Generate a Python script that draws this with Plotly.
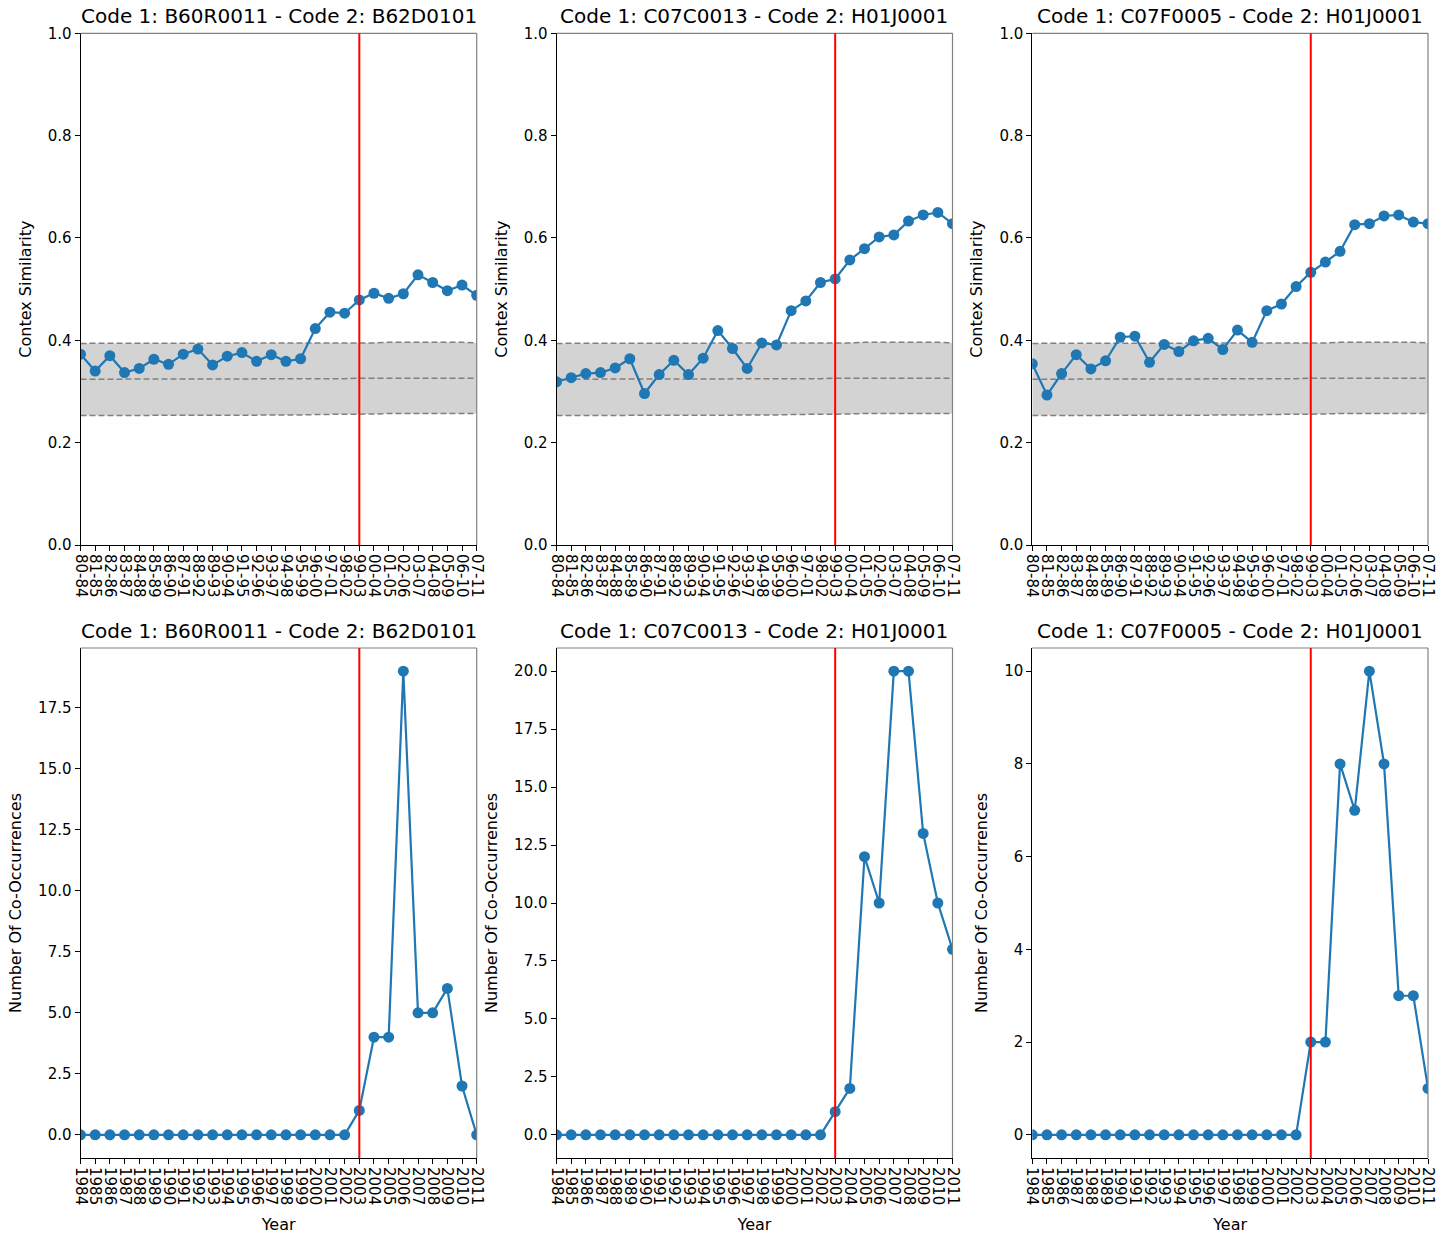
import plotly.graph_objects as go

W, H = 1451, 1241

period_labels = ["80-84", "81-85", "82-86", "83-87", "84-88", "85-89", "86-90", "87-91",
                 "88-92", "89-93", "90-94", "91-95", "92-96", "93-97", "94-98", "95-99",
                 "96-00", "97-01", "98-02", "99-03", "00-04", "01-05", "02-06", "03-07",
                 "04-08", "05-09", "06-10", "07-11"]
year_labels = [str(y) for y in range(1984, 2012)]

titles = ["Code 1: B60R0011 - Code 2: B62D0101",
          "Code 1: C07C0013 - Code 2: H01J0001",
          "Code 1: C07F0005 - Code 2: H01J0001"]

sim_1 = [0.373, 0.340, 0.370, 0.337, 0.345, 0.363, 0.353, 0.373, 0.383, 0.352, 0.369, 0.376,
         0.359, 0.372, 0.359, 0.364, 0.423, 0.455, 0.453, 0.479, 0.492, 0.482, 0.491, 0.528,
         0.513, 0.497, 0.508, 0.488]
sim_2 = [0.319, 0.327, 0.335, 0.337, 0.346, 0.364, 0.296, 0.333, 0.361, 0.333, 0.365, 0.419,
         0.384, 0.345, 0.395, 0.391, 0.458, 0.477, 0.513, 0.520, 0.557, 0.579, 0.602, 0.606,
         0.633, 0.645, 0.650, 0.628]
sim_3 = [0.354, 0.293, 0.335, 0.372, 0.344, 0.360, 0.406, 0.408, 0.357, 0.392, 0.378, 0.399,
         0.404, 0.382, 0.420, 0.396, 0.458, 0.471, 0.505, 0.533, 0.553, 0.574, 0.626, 0.628,
         0.643, 0.645, 0.631, 0.628]

band_upper = [0.394, 0.394, 0.394, 0.394, 0.394, 0.394, 0.394, 0.394, 0.394, 0.394, 0.394, 0.394,
              0.394, 0.394, 0.394, 0.394, 0.394, 0.394, 0.394, 0.395, 0.395, 0.396, 0.396, 0.397,
              0.397, 0.396, 0.396, 0.395]
band_mid = [0.324, 0.324, 0.324, 0.325, 0.325, 0.325, 0.325, 0.325, 0.325, 0.325, 0.325, 0.325,
            0.325, 0.325, 0.325, 0.325, 0.325, 0.325, 0.325, 0.326, 0.326, 0.326, 0.327, 0.327,
            0.327, 0.327, 0.327, 0.326]
band_lower = [0.253, 0.253, 0.253, 0.253, 0.254, 0.254, 0.254, 0.254, 0.254, 0.254, 0.254, 0.254,
              0.254, 0.254, 0.254, 0.254, 0.255, 0.255, 0.256, 0.256, 0.256, 0.257, 0.257, 0.257,
              0.258, 0.258, 0.257, 0.257]

cooc_1 = [0] * 19 + [1, 4, 4, 19, 5, 5, 6, 2, 0]
cooc_2 = [0] * 19 + [1, 2, 12, 10, 20, 20, 13, 10, 8]
cooc_3 = [0] * 19 + [2, 2, 8, 7, 10, 8, 3, 3, 1]

event_index = 19

sims = [sim_1, sim_2, sim_3]
coocs = [cooc_1, cooc_2, cooc_3]
cooc_ranges = [[-0.95, 19.95], [-1.0, 21.0], [-0.5, 10.5]]
cooc_ticks = [[0, 2.5, 5, 7.5, 10, 12.5, 15, 17.5],
              [0, 2.5, 5, 7.5, 10, 12.5, 15, 17.5, 20],
              [0, 2, 4, 6, 8, 10]]

col_px = [(80.5, 476.7), (556.5, 952.5), (1032.3, 1428.0)]
row_px = [(33.3, 545.0), (648.0, 1158.0)]

FONT = "DejaVu Sans"
BLUE = "#1f77b4"
TICKF = dict(family=FONT, size=15, color="black")
TITLEF = dict(family=FONT, size=16, color="black")

fig = go.Figure()
layout = dict(width=W, height=H, margin=dict(l=0, r=0, t=0, b=0, autoexpand=False),
              plot_bgcolor="white", paper_bgcolor="white", showlegend=False,
              font=dict(family=FONT, color="black"))
shapes = []
annotations = []
idx = list(range(28))

for r in range(2):
    for c in range(3):
        n = r * 3 + c + 1
        xa = "xaxis" if n == 1 else f"xaxis{n}"
        ya = "yaxis" if n == 1 else f"yaxis{n}"
        xr = "x" if n == 1 else f"x{n}"
        yr = "y" if n == 1 else f"y{n}"
        x0, x1 = col_px[c]
        y0, y1 = row_px[r]
        xdom = [x0 / W, x1 / W]
        ydom = [1 - y1 / H, 1 - y0 / H]
        if r == 0:
            fig.add_trace(go.Scatter(x=idx, y=band_lower, mode="lines", line=dict(width=0),
                                     hoverinfo="skip", xaxis=xr, yaxis=yr))
            fig.add_trace(go.Scatter(x=idx, y=band_upper, mode="lines", line=dict(width=0),
                                     fill="tonexty", fillcolor="#d3d3d3",
                                     hoverinfo="skip", xaxis=xr, yaxis=yr))
            for arr in (band_lower, band_mid, band_upper):
                fig.add_trace(go.Scatter(x=idx, y=arr, mode="lines",
                                         line=dict(color="#808080", width=1.5, dash="6px,3px"),
                                         xaxis=xr, yaxis=yr))
            fig.add_trace(go.Scatter(x=idx, y=sims[c], mode="lines+markers",
                                     line=dict(color=BLUE, width=2.2),
                                     marker=dict(color=BLUE, size=11),
                                     xaxis=xr, yaxis=yr))
            ticktext = period_labels
            yaxis = dict(range=[0, 1], tickvals=[0, 0.2, 0.4, 0.6, 0.8, 1.0],
                         ticktext=["0.0", "0.2", "0.4", "0.6", "0.8", "1.0"],
                         title=dict(text="Contex Similarity", font=TITLEF, standoff=12))
        else:
            fig.add_trace(go.Scatter(x=idx, y=coocs[c], mode="lines+markers",
                                     line=dict(color=BLUE, width=2.2),
                                     marker=dict(color=BLUE, size=11),
                                     xaxis=xr, yaxis=yr))
            ticktext = year_labels
            tv = cooc_ticks[c]
            tt = [f"{v:.1f}" if c < 2 else f"{int(v)}" for v in tv]
            yaxis = dict(range=cooc_ranges[c], tickvals=tv, ticktext=tt,
                         title=dict(text="Number Of Co-Occurrences", font=TITLEF, standoff=12))
        layout[xa] = dict(domain=xdom, anchor=yr, range=[0, 27], tickmode="array",
                          tickvals=idx, ticktext=ticktext, tickangle=90,
                          showgrid=False, zeroline=False, showline=True, linecolor="black",
                          linewidth=1, ticks="outside", ticklen=5, tickcolor="black",
                          tickfont=TICKF, automargin=False)
        if r == 1:
            layout[xa]["title"] = dict(text="Year", font=TITLEF, standoff=14)
        yaxis.update(domain=ydom, anchor=xr, showgrid=False, zeroline=False, showline=True,
                     linecolor="black", linewidth=1, ticks="outside", ticklen=5,
                     tickcolor="black", tickfont=TICKF, automargin=False)
        layout[ya] = yaxis
        shapes.append(dict(type="line", xref="paper", yref="paper", x0=xdom[0], x1=xdom[1],
                           y0=ydom[1], y1=ydom[1], line=dict(color="#808080", width=1.2), layer="above"))
        shapes.append(dict(type="line", xref="paper", yref="paper", x0=xdom[1], x1=xdom[1],
                           y0=ydom[0], y1=ydom[1], line=dict(color="#808080", width=1.2), layer="above"))
        shapes.append(dict(type="line", xref=xr, yref=f"{yr} domain", x0=event_index,
                           x1=event_index, y0=0, y1=1, line=dict(color="red", width=2),
                           layer="above"))
        annotations.append(dict(text=titles[c], xref="paper", yref="paper",
                                x=(xdom[0] + xdom[1]) / 2, y=ydom[1] + 3 / H,
                                xanchor="center", yanchor="bottom", showarrow=False,
                                font=dict(family=FONT, size=20, color="black")))

layout["shapes"] = shapes
layout["annotations"] = annotations
fig.update_layout(**layout)
fig.write_html("out.html")
